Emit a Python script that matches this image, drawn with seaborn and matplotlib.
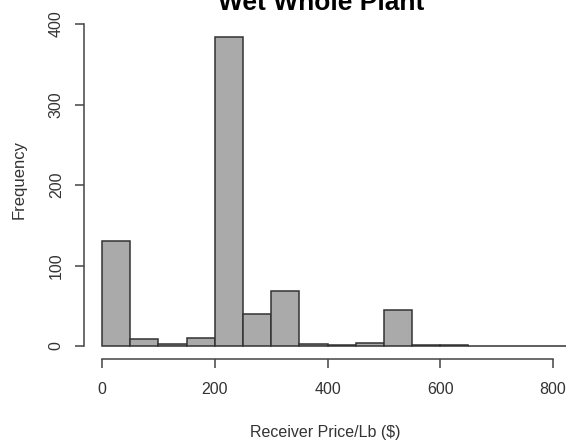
import numpy as np
import pandas as pd
import matplotlib
matplotlib.use("Agg")
import matplotlib.pyplot as plt
import seaborn as sns

# Bin edges ($/lb) and counts per bin
bin_edges = [0, 50, 100, 150, 200, 250, 300, 350, 400, 450, 500, 550, 600, 650, 700, 750, 800, 850]
bin_counts = [130, 9, 3, 10, 384, 40, 68, 3, 1, 4, 45, 1, 1, 0, 0, 0, 0]
x_ticks = [0, 200, 400, 600, 800]
y_ticks = [0, 100, 200, 300, 400]

sns.set_style("white")
plt.rcParams["font.family"] = ["Liberation Sans", "DejaVu Sans"]

mids = [(a + b) / 2 for a, b in zip(bin_edges[:-1], bin_edges[1:])]
df = pd.DataFrame({"price": mids, "n": bin_counts})

fig = plt.figure(figsize=(5.66, 4.44), dpi=100)
W, H = 566, 444
ax = fig.add_axes([84 / W, (H - 359) / H, 1 - 84 / W, 359 / H])

sns.histplot(data=df, x="price", weights="n", bins=bin_edges, ax=ax,
             color="#AAAAAA", alpha=1.0, edgecolor="#333333", linewidth=1.1)

ax.set_xlim(-31.9, 823)
ax.set_ylim(-16.1, 429.8)

for s in ["top", "right"]:
    ax.spines[s].set_visible(False)
for s in ["left", "bottom"]:
    ax.spines[s].set_color("#444444")
    ax.spines[s].set_linewidth(1.1)
ax.spines["left"].set_bounds(0, 400)
ax.spines["bottom"].set_bounds(0, 800)

ax.set_xticks(x_ticks)
ax.set_yticks(y_ticks)
ax.set_yticklabels([str(v) for v in y_ticks], rotation=90, va="center")
ax.tick_params(axis="both", direction="out", length=6.5, width=1.1, color="#444444",
               labelsize=11.5, labelcolor="#333333", left=True, bottom=True)
ax.tick_params(axis="x", pad=10)
ax.tick_params(axis="y", pad=8)

ax.set_xlabel("Receiver Price/Lb ($)", fontsize=11.5, color="#333333", labelpad=20)
ax.set_ylabel("Frequency", fontsize=12, color="#333333", labelpad=16)

fig.text(321.5 / W, (H - 10) / H, "Wet Whole Plant", ha="center", va="baseline",
         fontsize=19, fontweight="bold", color="black")

fig.savefig("out.png", dpi=100, facecolor="white")
